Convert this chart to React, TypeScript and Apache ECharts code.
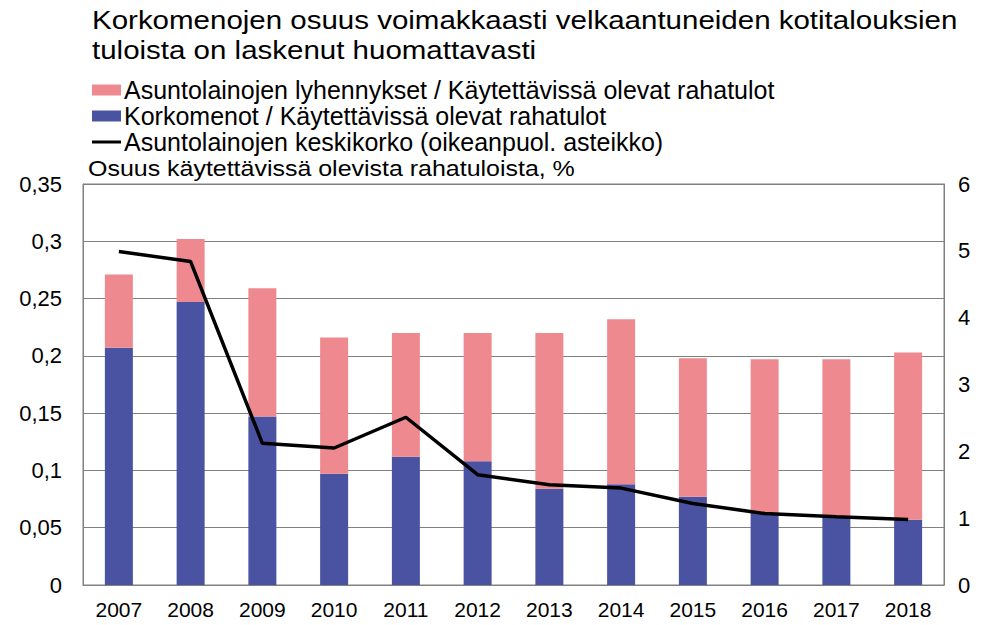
import React, { useEffect, useRef } from "react";
import * as echarts from "echarts";

const years = ["2007", "2008", "2009", "2010", "2011", "2012", "2013", "2014", "2015", "2016", "2017", "2018"];
const interestShare = [0.207, 0.247, 0.147, 0.097, 0.112, 0.108, 0.084, 0.088, 0.077, 0.063, 0.06, 0.057];
const amortShare = [0.064, 0.055, 0.112, 0.119, 0.108, 0.112, 0.136, 0.144, 0.121, 0.134, 0.137, 0.146];
const avgRate = [4.99, 4.84, 2.12, 2.05, 2.51, 1.65, 1.5, 1.45, 1.22, 1.07, 1.02, 0.98];

const titleText = "Korkomenojen osuus voimakkaasti velkaantuneiden kotitalouksien\ntuloista on laskenut huomattavasti";
const axisTitle = "Osuus käytettävissä olevista rahatuloista, %";
const nameAmort = "Asuntolainojen lyhennykset / Käytettävissä olevat rahatulot";
const nameInterest = "Korkomenot / Käytettävissä olevat rahatulot";
const nameRate = "Asuntolainojen keskikorko (oikeanpuol. asteikko)";

const FONT = "'Liberation Sans', Arial, sans-serif";

export default function App() {
  const ref = useRef<HTMLDivElement>(null);
  useEffect(() => {
    if (!ref.current) return;
    const chart = echarts.init(ref.current, null, { renderer: "svg" });
    chart.setOption({
      animation: false,
      backgroundColor: "#ffffff",
      textStyle: { fontFamily: FONT },
      legend: {
        orient: "vertical",
        left: 87,
        top: 72,
        itemWidth: 29,
        itemHeight: 11,
        itemGap: 0,
        textStyle: { fontFamily: FONT, fontSize: 25, color: "#000", lineHeight: 26, padding: [0, 0, 0, -2] },
        data: [
          { name: nameAmort, icon: "rect" },
          { name: nameInterest, icon: "rect" },
          { name: nameRate, icon: "path://M0,0 H29 V3 H0 Z" },
        ],
      },
      graphic: [
        {
          type: "text",
          x: 92,
          y: 5,
          scaleX: 1.18,
          style: { text: titleText, fontFamily: FONT, fontSize: 25, lineHeight: 30, fill: "#000" },
        },
        {
          type: "text",
          x: 88,
          y: 158,
          scaleX: 1.135,
          style: { text: axisTitle, fontFamily: FONT, fontSize: 22, fill: "#000" },
        },
      ],
      grid: { left: 83, right: 40, top: 184, bottom: 40, show: true, borderColor: "#808080", borderWidth: 1 },
      xAxis: {
        type: "category",
        data: years,
        axisLine: { lineStyle: { color: "#808080" } },
        axisTick: { show: false },
        axisLabel: { color: "#000", fontSize: 21, fontFamily: FONT, margin: 14 },
      },
      yAxis: [
        {
          type: "value",
          min: 0,
          max: 0.35,
          interval: 0.05,
          axisLine: { show: true, lineStyle: { color: "#808080" } },
          axisTick: { show: false },
          splitLine: { lineStyle: { color: "#808080", width: 1 } },
          axisLabel: {
            color: "#000",
            fontSize: 22,
            fontFamily: FONT,
            margin: 21,
            formatter: (v: number) => String(Math.round(v * 100) / 100).replace(".", ","),
          },
        },
        {
          type: "value",
          min: 0,
          max: 6,
          interval: 1,
          axisLine: { show: true, lineStyle: { color: "#808080" } },
          axisTick: { show: false },
          splitLine: { show: false },
          axisLabel: { color: "#000", fontSize: 22, fontFamily: FONT, margin: 14 },
        },
      ],
      series: [
        {
          name: nameInterest,
          type: "bar",
          stack: "s",
          data: interestShare,
          barWidth: 28,
          itemStyle: { color: "#4A53A1" },
        },
        {
          name: nameAmort,
          type: "bar",
          stack: "s",
          data: amortShare,
          barWidth: 28,
          itemStyle: { color: "#EE8A8F" },
        },
        {
          name: nameRate,
          type: "line",
          yAxisIndex: 1,
          data: avgRate,
          symbol: "none",
          lineStyle: { color: "#000", width: 3.5 },
          itemStyle: { color: "#000" },
        },
      ],
    });
    return () => chart.dispose();
  }, []);
  return <div ref={ref} style={{ width: 984, height: 625, position: "absolute", left: 0, top: 0 }} />;
}
